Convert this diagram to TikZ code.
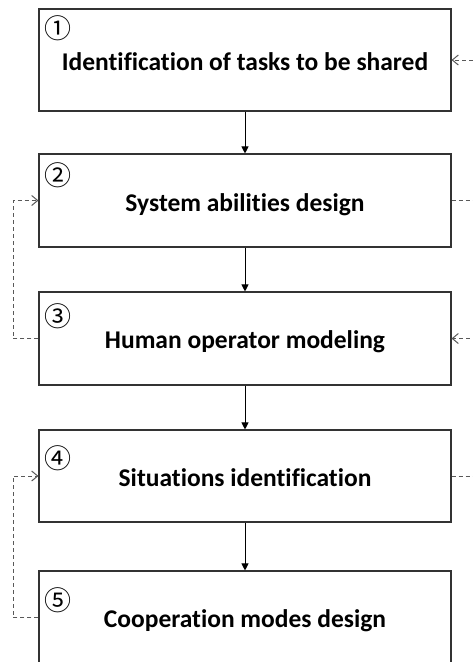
\documentclass[tikz,border=0pt]{standalone}
\usepackage{fontspec}
\setmainfont[Ligatures={NoCommon}]{Carlito}
\newfontfamily\cjkfont{Noto Sans CJK JP}
\usetikzlibrary{arrows.meta}
\begin{document}
\begin{tikzpicture}[x=1pt,y=-1pt,
  box/.style={draw=black!80,line width=1.1pt,minimum width=412pt,inner sep=0pt},
  lbl/.style={font=\bfseries\fontsize{25.5}{28}\selectfont,anchor=base,inner sep=0pt},
  num/.style={font=\cjkfont\fontsize{27}{27}\selectfont,inner sep=0pt},
  flow/.style={draw=black,line width=0.9pt,-{Triangle[length=7pt,width=7pt]}},
  fb/.style={draw=black!65,line width=1pt,dash pattern=on 4pt off 3pt},
  fbarrow/.style={fb,-{Straight Barb[length=6pt,width=10pt,line width=1pt]}}]
\useasboundingbox (0,0) rectangle (473,662);
\clip (0,0) rectangle (473,662);
\node[box,minimum height=102pt] (b1) at (245,60) {};
\node[box,minimum height=93pt] (b2) at (245,200.5) {};
\node[box,minimum height=93pt] (b3) at (245,338.5) {};
\node[box,minimum height=92pt] (b4) at (245,476) {};
\node[box,minimum height=93pt] (b5) at (245,617.5) {};
\node[lbl] (t1) at (245,70) {Identification of tasks to be shared};
\node[lbl] (t2) at (245,211) {System abilities design};
\node[lbl] (t3) at (245,348) {Human operator modeling};
\node[lbl] (t4) at (245,486) {Situations identification};
\node[lbl] (t5) at (245,627) {Cooperation modes design};
\node[num] (n1) at (58,28) {①};
\node[num] (n2) at (58,175) {②};
\node[num] (n3) at (58,316) {③};
\node[num] (n4) at (58,458) {④};
\node[num] (n5) at (58,600) {⑤};
\draw[flow] (b1.south) -- (b2.north);
\draw[flow] (b2.south) -- (b3.north);
\draw[flow] (b3.south) -- (b4.north);
\draw[flow] (b4.south) -- (b5.north);
\coordinate (l1) at (13,0);
\draw[fbarrow] (b3.west) -| (l1 |- b2.west) -- (b2.west);
\draw[fbarrow] (b5.west) -| (l1 |- b4.west) -- (b4.west);
\coordinate (r1) at (490,0);
\draw[fbarrow] (b2.east) -| (r1 |- b1.east) -- (b1.east);
\draw[fbarrow] (b4.east) -| (r1 |- b3.east) -- (b3.east);
\end{tikzpicture}
\end{document}
